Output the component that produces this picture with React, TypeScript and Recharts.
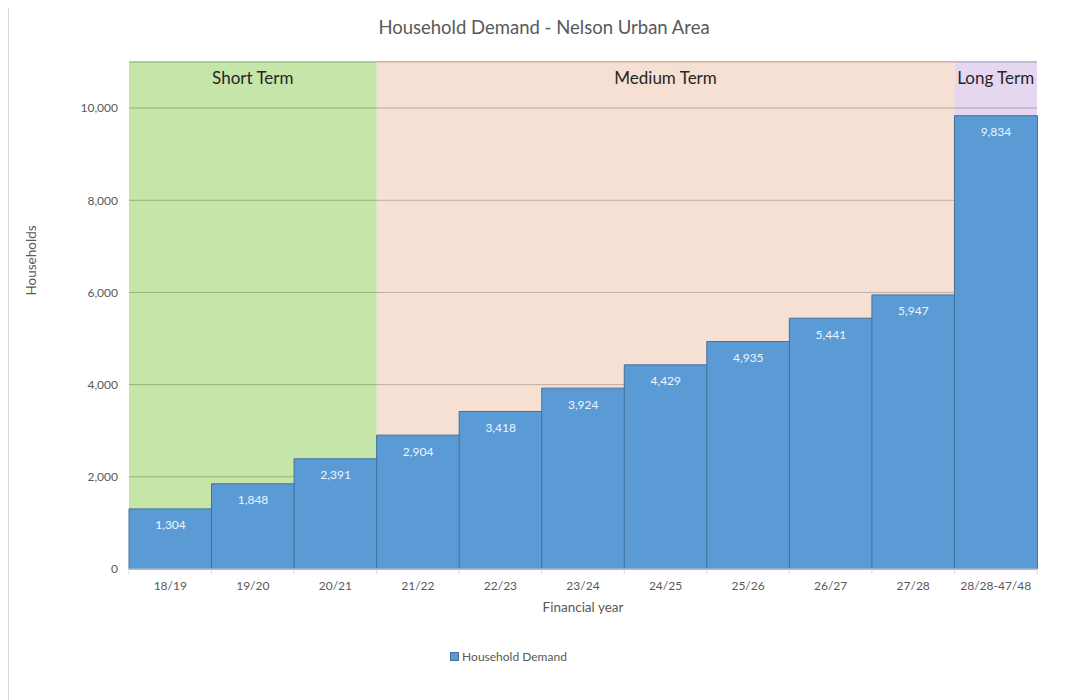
import { Bar, CartesianGrid, ComposedChart, LabelList, Legend, ReferenceArea, XAxis, YAxis } from "recharts";

const years = ["18/19", "19/20", "20/21", "21/22", "22/23", "23/24", "24/25", "25/26", "26/27", "27/28", "28/28-47/48"];
const demand = [1304, 1848, 2391, 2904, 3418, 3924, 4429, 4935, 5441, 5947, 9834];
const yTicks = [0, 2000, 4000, 6000, 8000, 10000];

const terms = [
  { name: "Short Term", from: "18/19", to: "20/21", fill: "#a0d470" },
  { name: "Medium Term", from: "21/22", to: "27/28", fill: "#f0cbb6" },
  { name: "Long Term", from: "28/28-47/48", to: "28/28-47/48", fill: "#d5bde6" },
];

const data = years.map((year, i) => ({ year, demand: demand[i] }));

const fmt = (v: number) => v.toLocaleString("en-US");
const font = "Lato, 'Open Sans', sans-serif";

// tick text at the band centre, tick mark at the band's left edge (and right edge for the last one)
const YearTick = (props: any) => {
  const { x, y, payload, index } = props;
  const half = payload.offset || 41;
  return (
    <g>
      <line x1={x - half} x2={x - half} y1={y - 12} y2={y - 7} stroke="#d9d9d9" />
      {index === years.length - 1 && (
        <line x1={x + half} x2={x + half} y1={y - 12} y2={y - 7} stroke="#d9d9d9" />
      )}
      <text x={x} y={y} dy="0.71em" textAnchor="middle" fontSize={12} fill="#595959" fontFamily={font}>
        {payload.value}
      </text>
    </g>
  );
};

const LegendBox = () => (
  <div
    style={{
      display: "flex",
      justifyContent: "center",
      alignItems: "center",
      marginLeft: -29,
      fontFamily: font,
      fontSize: 12,
      color: "#595959",
    }}
  >
    <span style={{ width: 7, height: 7, background: "#5b9bd5", border: "1px solid #41719c", marginRight: 3 }} />
    Household Demand
  </div>
);

export default function App() {
  return (
    <div
      style={{
        position: "relative",
        top: -5,
        width: 1061,
        height: 697,
        borderLeft: "1px solid #d9d9d9",
        borderTop: "1px solid #d9d9d9",
        background: "#fff",
        fontFamily: font,
      }}
    >
      <div
        style={{
          position: "absolute",
          top: 12,
          left: 0,
          width: 1070,
          textAlign: "center",
          fontSize: 18.5,
          color: "#595959",
        }}
      >
        Household Demand - Nelson Urban Area
      </div>
      <ComposedChart width={1060} height={696} data={data} margin={{ top: 58, right: 32, bottom: 57, left: 0 }} barCategoryGap={0}>
        <CartesianGrid vertical={false} stroke="#7f7f7f" />
        {terms.map((t) => (
          <ReferenceArea
            key={t.name}
            x1={t.from}
            x2={t.to}
            y1={0}
            y2={11000}
            fill={t.fill}
            fillOpacity={0.6}
            stroke="none"
            label={{ value: t.name, position: "insideTop", offset: 10, fontSize: 17, fill: "#262626", fontFamily: font }}
          />
        ))}
        <XAxis
          dataKey="year"
          height={50}
          tickLine={false}
          tickSize={0}
          tickMargin={12}
          tick={<YearTick />}
          interval={0}
          axisLine={{ stroke: "#d9d9d9" }}
          label={{ value: "Financial year", position: "insideBottom", offset: 7, fontSize: 13.5, fill: "#595959", fontFamily: font }}
        />
        <YAxis
          width={120}
          domain={[0, 11000]}
          ticks={yTicks}
          tickFormatter={fmt}
          axisLine={false}
          tickLine={false}
          tickMargin={5}
          tick={{ fontSize: 12, fill: "#595959", fontFamily: font }}
          label={{
            value: "Households",
            angle: -90,
            position: "insideLeft",
            offset: 22,
            dy: -20,
            fontSize: 13.5,
            fill: "#595959",
            fontFamily: font,
          }}
        />
        <Legend verticalAlign="bottom" height={24} content={<LegendBox />} wrapperStyle={{ top: 645 }} />
        <Bar dataKey="demand" name="Household Demand" fill="#5b9bd5" stroke="#41719c" strokeWidth={1} isAnimationActive={false}>
          <LabelList
            dataKey="demand"
            position="insideTop"
            offset={12}
            formatter={(v: any) => fmt(Number(v))}
            fill="#eef4fb"
            fontSize={12}
            fontFamily={font}
          />
        </Bar>
      </ComposedChart>
    </div>
  );
}
